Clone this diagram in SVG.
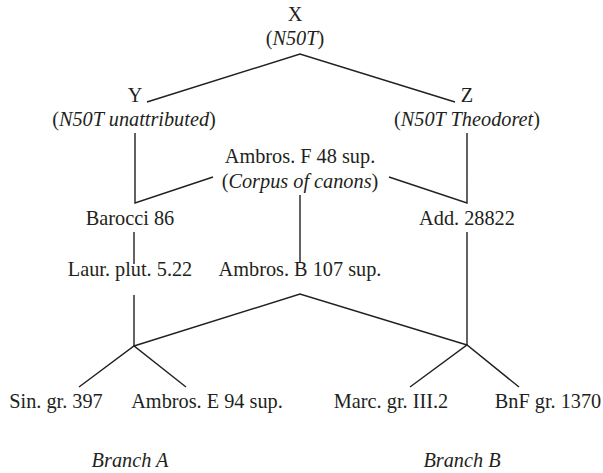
<svg xmlns="http://www.w3.org/2000/svg" width="603" height="473" viewBox="0 0 603 473">
<style>
text{font-family:"Liberation Serif","Times New Roman",serif;font-size:20.3px;fill:#231f20;text-anchor:middle}
.i{font-style:italic}
#connectors line,#connectors polyline{stroke:#231f20;stroke-width:1.4;fill:none}
</style>
<rect width="603" height="473" fill="#fff"/>
<g id="connectors">
<polyline points="147,102 300,54 455,102"/>
<polyline points="135,133 135,203 213,177"/>
<polyline points="467,133 467,203 389,177"/>
<line x1="300" y1="195" x2="300" y2="263"/>
<line x1="134" y1="232" x2="134" y2="264"/>
<line x1="134" y1="295" x2="134" y2="346"/>
<line x1="467" y1="232" x2="467" y2="345"/>
<polyline points="134,346 300,294 467,345"/>
<polyline points="79,387 134,346 186,387"/>
<polyline points="410,387 467,345 519,387"/>
</g>
<g id="X"><text x="295" y="21">X</text><text x="295" y="45">(<tspan class="i">N50T</tspan>)</text></g>
<g id="Y"><text x="135" y="102">Y</text><text x="134" y="126">(<tspan class="i">N50T unattributed</tspan>)</text></g>
<g id="Z"><text x="467" y="102">Z</text><text x="467" y="126">(<tspan class="i">N50T Theodoret</tspan>)</text></g>
<g id="AmbrosF"><text x="300" y="163">Ambros. F 48 sup.</text><text x="300" y="188">(<tspan class="i">Corpus of canons</tspan>)</text></g>
<g id="Barocci"><text x="130" y="225">Barocci 86</text></g>
<g id="Add"><text x="467" y="225">Add. 28822</text></g>
<g id="Laur"><text x="130" y="276">Laur. plut. 5.22</text></g>
<g id="AmbrosB"><text x="300" y="276">Ambros. B 107 sup.</text></g>
<g id="Sin"><text x="56" y="408">Sin. gr. 397</text></g>
<g id="AmbrosE"><text x="207" y="408">Ambros. E 94 sup.</text></g>
<g id="Marc"><text x="391" y="408">Marc. gr. III.2</text></g>
<g id="BnF"><text x="548" y="408">BnF gr. 1370</text></g>
<g id="BranchA"><text class="i" x="130" y="467">Branch A</text></g>
<g id="BranchB"><text class="i" x="462" y="467">Branch B</text></g>
</svg>
